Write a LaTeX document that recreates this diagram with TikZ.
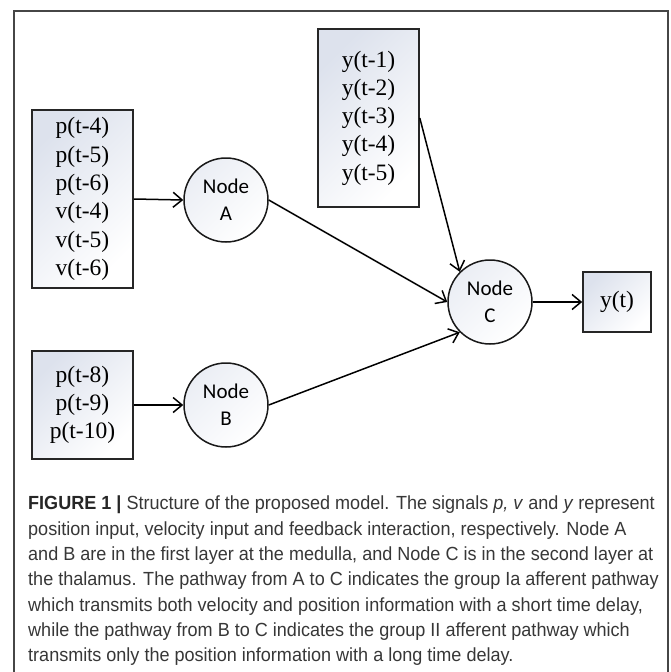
\documentclass[tikz,border=0pt]{standalone}
\usepackage{fontspec}
\setmainfont{Liberation Serif}
\newfontfamily\nodefont{Carlito}
\newfontfamily\capfont[FakeStretch=0.95]{Liberation Sans}
\usetikzlibrary{arrows.meta}
\definecolor{framegray}{RGB}{70,70,70}
\definecolor{shadeblue}{RGB}{221,226,237}
\definecolor{captext}{RGB}{55,55,55}
\begin{document}
\begin{tikzpicture}[x=1pt,y=-1pt,
    inbox/.style={draw=black!85,line width=1.6pt,shade,top color=shadeblue,bottom color=white,shading angle=45,
      align=center,inner sep=0pt,minimum width=101pt,font=\fontsize{23.5}{28.3}\selectfont},
    neuron/.style={circle,draw=black!90,line width=1.5pt,shade,top color=shadeblue!60,bottom color=white,shading angle=45,
      minimum size=84pt,inner sep=0pt,align=center,font=\nodefont\fontsize{21}{27}\selectfont},
    link/.style={-{Straight Barb[length=9pt,width=15pt]},line width=1.5pt}]
    \useasboundingbox (0,0) rectangle (670,672);
    \draw[framegray,line width=1.3pt] (14,690) -- (14,11) -- (668,11) -- (668,690);
    %inputs
    \node[inbox,minimum height=178pt] (inA) at (82.5,199) {p(t-4)\\p(t-5)\\p(t-6)\\v(t-4)\\v(t-5)\\v(t-6)};
    \node[inbox,minimum height=108pt] (inB) at (82.5,405) {p(t-8)\\p(t-9)\\p(t-10)};
    \node[inbox,minimum height=178pt] (inY) at (368.5,118) {y(t-1)\\y(t-2)\\y(t-3)\\y(t-4)\\y(t-5)};
    %nodes
    \node[neuron] (nodeA) at (226,200) {Node\\A};
    \node[neuron] (nodeB) at (226,405) {Node\\B};
    \node[neuron] (nodeC) at (490,302) {Node\\C};
    \node[inbox,minimum width=68pt,minimum height=60pt] (out) at (617,302) {y(t)};
    %connections
    \draw[link] (inA.east) -- (nodeA.west);
    \draw[link] (inB.east) -- (nodeB.west);
    \draw[link] (nodeA.east) -- (nodeC.west);
    \draw[link] (nodeB.east) -- (nodeC.225);
    \draw[link] (inY.east) -- (nodeC.135);
    \draw[link] (nodeC.east) -- (out.west);
    %caption
    \node[anchor=north west,align=left,inner sep=0pt,text=captext,font=\capfont\fontsize{19}{25.3}\selectfont] (caption) at (28,496)
      {{\color{black!85}\textbf{FIGURE 1 |}} Structure of the proposed model. The signals \textit{p, v} and \textit{y} represent\\
       position input, velocity input and feedback interaction, respectively. Node A\\
       and B are in the first layer at the medulla, and Node C is in the second layer at\\
       the thalamus. The pathway from A to C indicates the group Ia afferent pathway\\
       which transmits both velocity and position information with a short time delay,\\
       while the pathway from B to C indicates the group II afferent pathway which\\
       transmits only the position information with a long time delay.};
\end{tikzpicture}
\end{document}
